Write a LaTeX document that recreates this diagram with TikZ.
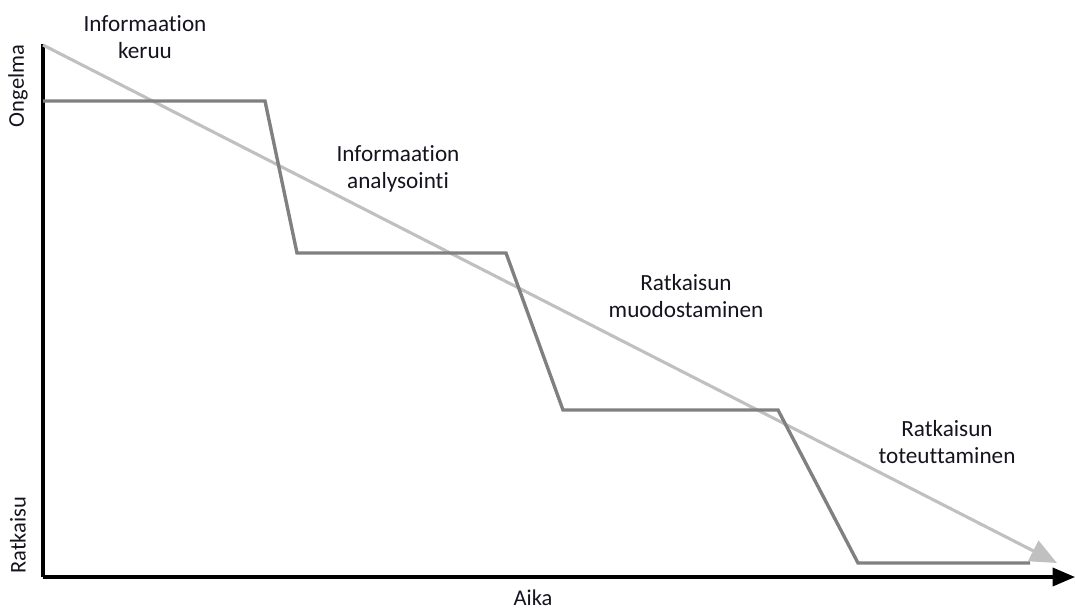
\documentclass[tikz,border=0pt]{standalone}
\usepackage{fontspec}
\setmainfont[Ligatures=NoCommon]{Carlito}
\usetikzlibrary{arrows.meta}

\definecolor{stepgray}{RGB}{128,128,128}
\definecolor{trendgray}{RGB}{192,192,192}
\definecolor{labeltext}{RGB}{20,20,30}

\tikzset{
	phase/.style={align=center, font=\fontsize{16.5}{19.5}\selectfont, text=labeltext, inner sep=0pt},
	axislabel/.style={font=\fontsize{16}{19}\selectfont, text=labeltext, inner sep=0pt}
}

\begin{document}
\begin{tikzpicture}[x={(0.025cm,0)}, y={(0,-0.025cm)}]
			\useasboundingbox (0,0) rectangle (1075,610);
			
			% axes
			\coordinate (O) at (43,577);
			\coordinate (top) at (43,44);
			\coordinate (right) at (1075,577);
			\draw[line width=2.2pt, -{Triangle[length=16pt, width=13pt]}] (O) -- (right);
			\draw[line width=2.2pt] (O) -- (top);
			
			\node[axislabel, rotate=90] (ongelma) at (18,86) {Ongelma};
			\node[axislabel, rotate=90] (ratkaisu) at (18,535) {Ratkaisu};
			\node[axislabel] (aika) at (533,598) {Aika};
			
			% trend
			\draw[trendgray, line width=2.2pt, -{Triangle[length=19pt, width=16pt]}] (43,45) -- (1057,563);
			
			% steps
			\draw[stepgray, line width=2.4pt, line join=miter] (43,101) -- (265,101) -- (297,253) -- (506,253) -- (563,410) -- (778,410) -- (858,563) -- (1030,563);
			
			\node[phase] (keruu) at (145,37) {Informaation\\keruu};
			\node[phase] (analysointi) at (398,169) {Informaation\\analysointi};
			\node[phase] (muodostaminen) at (686,296) {Ratkaisun\\muodostaminen};
			\node[phase] (toteuttaminen) at (947,442) {Ratkaisun\\toteuttaminen};
\end{tikzpicture}
\end{document}
